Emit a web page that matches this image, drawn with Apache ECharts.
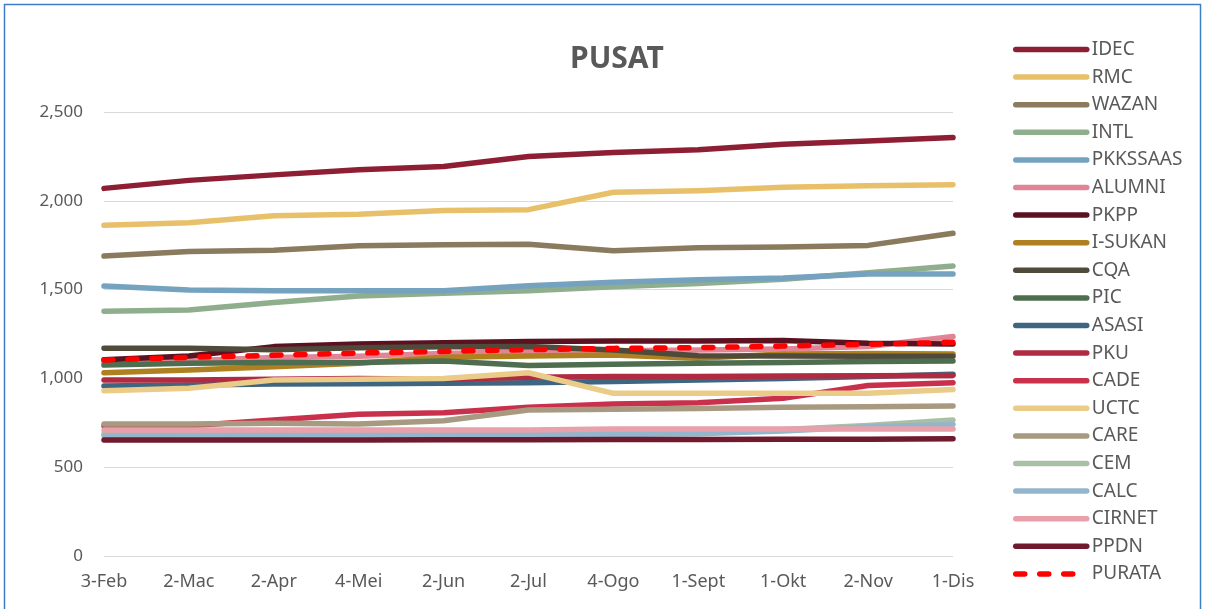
<!DOCTYPE html>
<html>
<head>
<meta charset="utf-8">
<script src="https://cdn.jsdelivr.net/npm/echarts@6/dist/echarts.min.js"></script>
<style>
html,body{margin:0;padding:0;background:#fff;}
#c{width:1206px;height:609px;}
</style>
</head>
<body>
<div id="c"></div>
<script>
var categories = ['3-Feb','2-Mac','2-Apr','4-Mei','2-Jun','2-Jul','4-Ogo','1-Sept','1-Okt','2-Nov','1-Dis'];
var yTicks = [0, 500, 1000, 1500, 2000, 2500];

var IDEC     = [2070, 2115, 2146, 2175, 2193, 2250, 2272, 2288, 2318, 2337, 2356];
var RMC      = [1862, 1877, 1916, 1924, 1945, 1950, 2048, 2057, 2076, 2085, 2091];
var WAZAN    = [1689, 1714, 1721, 1747, 1753, 1755, 1719, 1736, 1740, 1749, 1817];
var INTL     = [1378, 1385, 1427, 1464, 1479, 1494, 1516, 1535, 1558, 1595, 1633];
var PKKSSAAS = [1520, 1498, 1494, 1494, 1494, 1522, 1541, 1556, 1565, 1588, 1588];
var ALUMNI   = [1090, 1100, 1118, 1125, 1140, 1150, 1155, 1160, 1165, 1180, 1236];
var PKPP     = [1105, 1126, 1179, 1194, 1201, 1208, 1210, 1210, 1214, 1198, 1194];
var I_SUKAN  = [1032, 1047, 1066, 1085, 1119, 1126, 1132, 1113, 1137, 1140, 1137];
var CQA      = [1170, 1170, 1162, 1172, 1178, 1180, 1160, 1128, 1126, 1125, 1125];
var PIC      = [1075, 1085, 1090, 1090, 1098, 1072, 1079, 1085, 1089, 1095, 1098];
var ASASI    = [957, 963, 968, 970, 972, 976, 982, 991, 1000, 1010, 1023];
var PKU      = [991, 991, 995, 1000, 995, 1006, 1010, 1010, 1013, 1015, 1017];
var CADE     = [732, 734, 766, 798, 807, 837, 856, 863, 888, 960, 976];
var UCTC     = [931, 944, 991, 995, 1000, 1032, 916, 916, 916, 916, 937];
var CARE     = [743, 743, 747, 743, 762, 822, 826, 831, 837, 841, 845];
var CEM      = [688, 690, 692, 694, 696, 699, 702, 705, 712, 735, 766];
var CALC     = [677, 678, 680, 681, 682, 683, 684, 688, 704, 728, 741];
var CIRNET   = [710, 710, 710, 710, 710, 710, 715, 715, 715, 715, 715];
var PPDN     = [653, 653, 653, 653, 654, 655, 656, 656, 657, 658, 660];
var PURATA   = [1104, 1119, 1130, 1143, 1152, 1162, 1169, 1173, 1182, 1192, 1203];

var seriesNames = ['IDEC','RMC','WAZAN','INTL','PKKSSAAS','ALUMNI','PKPP','I-SUKAN','CQA','PIC','ASASI','PKU','CADE','UCTC','CARE','CEM','CALC','CIRNET','PPDN','PURATA'];
var seriesData = [IDEC,RMC,WAZAN,INTL,PKKSSAAS,ALUMNI,PKPP,I_SUKAN,CQA,PIC,ASASI,PKU,CADE,UCTC,CARE,CEM,CALC,CIRNET,PPDN,PURATA];
var seriesColors = ['#8e1e33','#e8c06a','#8a7a5e','#8fae8e','#74a2bf','#e08595','#5a1221','#ae8020','#4f4a3a','#4f6e50','#3f6680','#b02a42','#c9304c','#ebcb88','#a79a80','#a8c0a4','#93b6cc','#e8a0ab','#701a2d','#ff0000'];

var FONT = '"Noto Sans", sans-serif';
var series = seriesNames.map(function (n, i) {
  var dashed = n === 'PURATA';
  return {
    name: n,
    type: 'line',
    data: seriesData[i],
    symbol: 'none',
    color: seriesColors[i],
    lineStyle: {
      width: 5.5,
      color: seriesColors[i],
      type: dashed ? [9, 15] : 'solid',
      cap: 'round',
      join: 'round'
    },
    z: 2 + i,
    silent: true,
    animation: false
  };
});

var chart = echarts.init(document.getElementById('c'), null, {renderer: 'canvas'});
chart.setOption({
  backgroundColor: '#fff',
  animation: false,
  title: {
    text: 'PUSAT',
    left: 565,
    top: 39,
    textStyle: {fontFamily: FONT, fontSize: 30, fontWeight: 'bold', color: '#595959'}
  },
  graphic: [{
    type: 'rect',
    shape: {x: 4.5, y: 4.5, width: 1196, height: 640},
    style: {fill: 'none', stroke: '#3d7fc4', lineWidth: 1.5},
    silent: true,
    z: 100
  }],
  legend: {
    orient: 'vertical',
    left: 1008,
    top: 35,
    itemWidth: 71,
    itemHeight: 14,
    itemGap: 8.6,
    data: seriesNames,
    itemStyle: {opacity: 0},
    lineStyle: {width: 5.5},
    textStyle: {fontFamily: FONT, fontSize: 19, color: '#595959', lineHeight: 19},
    selectedMode: false
  },
  grid: {left: 104, right: 253, top: 112, bottom: 53, containLabel: false},
  xAxis: {
    type: 'category',
    data: categories,
    boundaryGap: false,
    axisLine: {show: false},
    axisTick: {show: false},
    axisLabel: {interval: 0, margin: 17, fontFamily: FONT, fontSize: 18, color: '#595959'}
  },
  yAxis: {
    type: 'value',
    min: yTicks[0],
    max: yTicks[yTicks.length - 1],
    interval: 500,
    axisLine: {show: false},
    axisTick: {show: false},
    splitLine: {lineStyle: {color: '#d9d9d9', width: 1}},
    axisLabel: {
      margin: 21, fontFamily: FONT, fontSize: 17, color: '#595959',
      formatter: function (v) { return v.toLocaleString('en-US'); }
    }
  },
  series: series
});
</script>
</body>
</html>
